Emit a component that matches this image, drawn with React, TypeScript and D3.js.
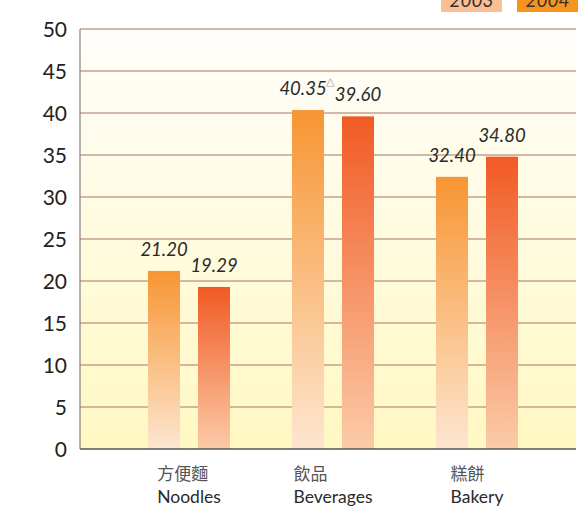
import React, { useEffect, useRef } from "react";
import * as d3 from "d3";

const categoriesZh = ["方便麵", "飲品", "糕餅"];
const categoriesEn = ["Noodles", "Beverages", "Bakery"];
const seriesNames = ["2003", "2004"];
const values2003 = [21.2, 40.35, 32.4];
const values2004 = [19.29, 39.6, 34.8];
const valueLabels2003 = ["21.20", "40.35", "32.40"];
const valueLabels2004 = ["19.29", "39.60", "34.80"];
const marks2003 = ["", "△", ""];
const yTicks = [0, 5, 10, 15, 20, 25, 30, 35, 40, 45, 50];

const W = 581;
const H = 518;

export default function App() {
  const ref = useRef<SVGSVGElement>(null);

  useEffect(() => {
    const svg = d3.select(ref.current);
    svg.selectAll("*").remove();

    const left = 80, right = 576, top = 29, bottom = 449;
    const y = d3.scaleLinear().domain([0, 50]).range([bottom, top]);
    const x0 = d3.scaleBand<string>().domain(categoriesEn).range([117, 549]).paddingInner(0).paddingOuter(0);
    const x1 = d3.scaleBand<string>().domain(seriesNames).range([-41, 41]).paddingInner(0.36).paddingOuter(0);

    const defs = svg.append("defs");
    const bg = defs.append("linearGradient").attr("id", "bg").attr("x1", 0).attr("y1", 0).attr("x2", 0).attr("y2", 1);
    bg.append("stop").attr("offset", "0%").attr("stop-color", "#FFFEFB");
    bg.append("stop").attr("offset", "100%").attr("stop-color", "#FFF8C2");

    const g1 = defs.append("linearGradient").attr("id", "g2003").attr("x1", 0).attr("y1", 0).attr("x2", 0).attr("y2", 1);
    g1.append("stop").attr("offset", "0%").attr("stop-color", "#F79533");
    g1.append("stop").attr("offset", "100%").attr("stop-color", "#FDE6D0");
    const g2 = defs.append("linearGradient").attr("id", "g2004").attr("x1", 0).attr("y1", 0).attr("x2", 0).attr("y2", 1);
    g2.append("stop").attr("offset", "0%").attr("stop-color", "#F15A24");
    g2.append("stop").attr("offset", "100%").attr("stop-color", "#FBCBA8");

    svg.append("rect").attr("x", left).attr("y", top).attr("width", right - left).attr("height", bottom - top).attr("fill", "url(#bg)");

    // grid
    svg.append("g").selectAll("line").data(yTicks.filter((t) => t > 0)).join("line")
      .attr("x1", left).attr("x2", right)
      .attr("y1", (d) => y(d)).attr("y2", (d) => y(d))
      .attr("stroke", "#C4A08E").attr("stroke-width", 1.6);

    // bars
    const series = [
      { name: "2003", vals: values2003, labels: valueLabels2003, fill: "url(#g2003)" },
      { name: "2004", vals: values2004, labels: valueLabels2004, fill: "url(#g2004)" },
    ];
    series.forEach((s) => {
      const gs = svg.append("g");
      gs.selectAll("rect").data(s.vals).join("rect")
        .attr("x", (d, i) => (x0(categoriesEn[i]) as number) + x0.bandwidth() / 2 + (x1(s.name) as number))
        .attr("y", (d) => y(d))
        .attr("width", x1.bandwidth())
        .attr("height", (d) => bottom - y(d))
        .attr("fill", s.fill);
      gs.selectAll("text").data(s.vals).join("text")
        .attr("x", (d, i) => (x0(categoriesEn[i]) as number) + x0.bandwidth() / 2 + (x1(s.name) as number) + x1.bandwidth() / 2 - (s.name === "2003" && marks2003[i] ? 5 : 0))
        .attr("y", (d) => y(d) - 15)
        .attr("text-anchor", "middle")
        .attr("font-family", "Lato, 'Open Sans', sans-serif")
        .attr("font-style", "italic")
        .attr("font-size", 18.5)
        .attr("fill", "#2a2a2a")
        .text((d, i) => s.labels[i]);
    });

    // superscript marks
    svg.append("g").selectAll("text").data(values2003).join("text")
      .attr("x", (d, i) => (x0(categoriesEn[i]) as number) + x0.bandwidth() / 2 + (x1("2003") as number) + x1.bandwidth() / 2 + 18)
      .attr("y", (d) => y(d) - 25)
      .attr("font-family", "'DejaVu Sans', sans-serif")
      .attr("font-size", 11)
      .attr("fill", "#999")
      .text((d, i) => marks2003[i]);

    // axes lines
    svg.append("line").attr("x1", left).attr("x2", left).attr("y1", top).attr("y2", bottom).attr("stroke", "#808080").attr("stroke-width", 1.2);
    svg.append("line").attr("x1", left).attr("x2", right).attr("y1", bottom).attr("y2", bottom).attr("stroke", "#555").attr("stroke-width", 1.6);

    // y tick labels
    svg.append("g").selectAll("text").data(yTicks).join("text")
      .attr("x", 67).attr("y", (d) => y(d) + 7.5)
      .attr("text-anchor", "end")
      .attr("font-family", "Lato, 'Open Sans', sans-serif")
      .attr("font-size", 21)
      .attr("fill", "#222")
      .text((d) => String(d));

    // category labels
    const catG = svg.append("g");
    categoriesEn.forEach((c, i) => {
      const cx = (x0(c) as number) + x0.bandwidth() / 2;
      const en = catG.append("text")
        .attr("y", 503)
        .attr("font-family", "Lato, 'Open Sans', sans-serif")
        .attr("font-size", 17.5)
        .attr("fill", "#2a2a2a")
        .text(c);
      const w = (en.node() as SVGTextElement).getComputedTextLength();
      const lx = cx - w / 2;
      en.attr("x", lx);
      catG.append("text")
        .attr("x", lx).attr("y", 480)
        .attr("font-family", "'Noto Sans CJK TC', sans-serif")
        .attr("font-size", 17)
        .attr("fill", "#555")
        .text(categoriesZh[i]);
    });

    // legend (clipped at top)
    const legend = [
      { name: "2003", x: 441, fill: "#FBBF93" },
      { name: "2004", x: 517, fill: "#F7941D" },
    ];
    legend.forEach((l) => {
      svg.append("rect").attr("x", l.x).attr("y", -10).attr("width", 61).attr("height", 22).attr("fill", l.fill);
      svg.append("text").attr("x", l.x + 30.5).attr("y", 7)
        .attr("text-anchor", "middle")
        .attr("font-family", "Lato, 'Open Sans', sans-serif")
        .attr("font-style", "italic")
        .attr("font-size", 19)
        .attr("fill", "#333")
        .text(l.name);
    });
  }, []);

  return (
    <svg ref={ref} width={W} height={H} style={{ position: "absolute", left: 0, top: 0, background: "#fff" }} />
  );
}
